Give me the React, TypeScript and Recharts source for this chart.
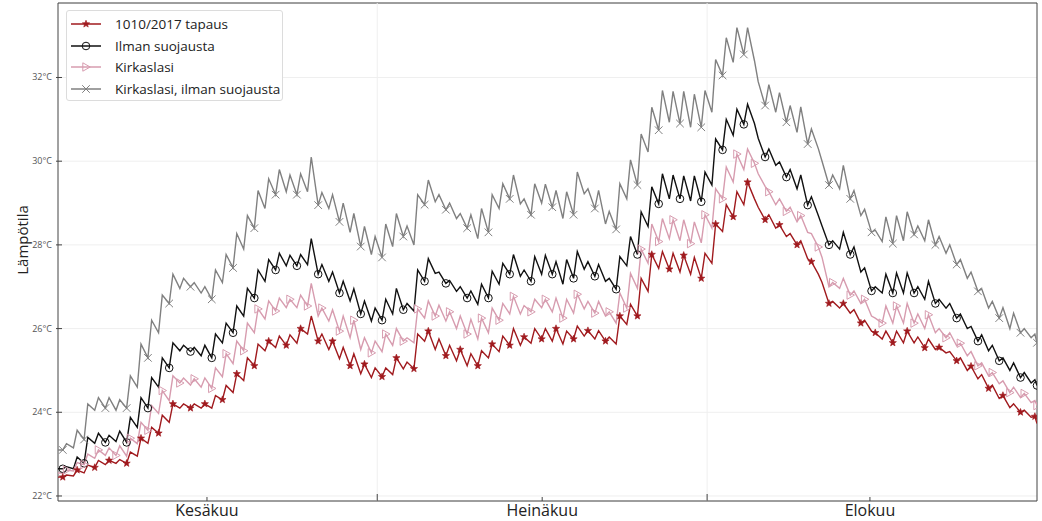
import React from 'react';
import { LineChart, Line, XAxis, YAxis, CartesianGrid, ReferenceLine, ReferenceArea } from 'recharts';

// ---- data (daily trough / daily peak, °C), 1 Jun .. 31 Aug ----
const seriesNames = ['1010/2017 tapaus', 'Ilman suojausta', 'Kirkaslasi', 'Kirkaslasi, ilman suojausta'];
const seriesKeys = ['red', 'black', 'pink', 'gray'];
const seriesColors = ['#a01a1e', '#111111', '#d79caf', '#808080'];

const redLow = [22.45, 22.48, 22.55, 22.68, 22.75, 22.78, 22.78, 22.95, 23.26, 23.5,
  23.76, 24.1, 24.1, 24.1, 24.1, 24.3, 24.47, 24.76, 25.11, 25.47,
  25.55, 25.6, 25.65, 25.87, 25.7, 25.5, 25.28, 25.11, 24.92, 24.83,
  24.85, 24.9, 25.04, 25.04, 25.7, 25.5, 25.35, 25.23, 25.11, 25.11,
  25.3, 25.45, 25.6, 25.6, 25.65, 25.75, 25.7, 25.63, 25.75, 25.82,
  25.75, 25.7, 25.63, 26.1, 26.3, 26.89, 27.44, 27.42, 27.35, 27.3,
  27.2, 27.56, 28.32, 28.67, 28.96, 29.1, 28.6, 28.4, 28.2, 28.0,
  27.67, 27.3, 26.6, 26.49, 26.37, 26.13, 25.94, 25.75, 25.66, 25.66,
  25.66, 25.54, 25.5, 25.42, 25.23, 25.0, 24.8, 24.57, 24.33, 24.11,
  24.0, 23.88];
const redHigh = [22.5, 22.62, 22.74, 22.85, 22.85, 22.87, 23.05, 23.38, 23.64, 23.93,
  24.2, 24.2, 24.2, 24.2, 24.4, 24.64, 24.92, 25.3, 25.63, 25.7,
  25.82, 25.85, 26.0, 26.3, 25.87, 25.7, 25.55, 25.4, 25.15, 25.06,
  25.06, 25.3, 25.2, 25.87, 25.94, 25.75, 25.6, 25.5, 25.4, 25.47,
  25.63, 25.82, 26.0, 25.8, 26.0, 26.0, 26.0, 25.94, 26.06, 25.95,
  25.95, 25.8, 26.3, 26.58, 27.2, 27.77, 27.84, 27.8, 27.75, 27.7,
  27.8, 28.5, 28.96, 29.27, 29.5, 28.9, 28.72, 28.48, 28.27, 28.1,
  27.6, 27.1, 26.65, 26.6, 26.45, 26.2, 25.9, 25.94, 25.94, 25.94,
  25.8, 25.75, 25.55, 25.45, 25.3, 25.1, 24.9, 24.65, 24.4, 24.2,
  24.05, 23.9];

const blackLow = [22.65, 22.65, 22.78, 23.26, 23.28, 23.3, 23.28, 23.64, 24.1, 24.6,
  25.06, 25.47, 25.45, 25.35, 25.3, 25.66, 25.9, 26.3, 26.73, 27.13,
  27.4, 27.5, 27.5, 27.53, 27.3, 27.13, 26.85, 26.66, 26.35, 26.18,
  26.2, 26.35, 26.45, 26.42, 27.13, 27.32, 27.08, 26.89, 26.73, 26.58,
  26.73, 27.06, 27.3, 27.25, 27.13, 27.3, 27.3, 27.06, 27.2, 27.42,
  27.25, 27.13, 26.94, 27.5, 27.77, 28.44, 28.98, 29.1, 29.1, 29.05,
  29.03, 29.43, 30.27, 30.62, 30.88, 30.9, 30.1, 29.9, 29.62, 29.34,
  28.95, 28.7, 28.0, 27.9, 27.77, 27.35, 26.9, 26.85, 26.85, 26.85,
  26.85, 26.7, 26.6, 26.49, 26.25, 26.0, 25.7, 25.47, 25.23, 25.0,
  24.83, 24.7];
const blackHigh = [22.7, 22.93, 23.4, 23.5, 23.45, 23.55, 23.88, 24.35, 24.83, 25.3,
  25.66, 25.6, 25.55, 25.6, 25.87, 26.13, 26.54, 26.96, 27.4, 27.65,
  27.8, 27.75, 27.77, 28.15, 27.53, 27.35, 27.13, 26.95, 26.66, 26.49,
  26.7, 26.96, 26.6, 27.4, 27.67, 27.35, 27.15, 27.0, 26.9, 27.06,
  27.37, 27.56, 27.77, 27.4, 27.72, 27.75, 27.6, 27.65, 27.84, 27.6,
  27.53, 27.2, 27.72, 28.2, 28.79, 29.39, 29.7, 29.67, 29.65, 29.65,
  29.74, 30.53, 31.0, 31.24, 31.36, 30.55, 30.29, 29.98, 29.8, 29.67,
  29.15, 28.45, 28.1, 28.3, 27.95, 27.45, 27.0, 27.3, 27.33, 27.33,
  27.0, 27.13, 26.7, 26.6, 26.35, 26.05, 25.85, 25.6, 25.3, 25.18,
  24.95, 24.78];

const pinkLow = [22.55, 22.6, 22.75, 22.9, 22.97, 22.97, 22.95, 23.25, 23.57, 23.97,
  24.28, 24.7, 24.65, 24.6, 24.57, 24.85, 25.16, 25.47, 25.9, 26.23,
  26.42, 26.5, 26.5, 26.54, 26.3, 26.18, 25.94, 25.78, 25.5, 25.42,
  25.45, 25.6, 25.7, 25.66, 26.25, 26.3, 26.18, 26.0, 25.87, 25.75,
  25.9, 26.2, 26.35, 26.35, 26.4, 26.5, 26.4, 26.25, 26.37, 26.47,
  26.37, 26.3, 26.13, 26.49, 26.96, 27.56, 28.08, 28.15, 28.1, 28.03,
  28.05, 28.4, 29.1, 29.5, 29.8, 29.95, 29.4, 28.96, 28.8, 28.55,
  28.3, 27.95, 27.0, 26.96, 26.8, 26.6, 26.3, 26.13, 26.13, 26.13,
  26.13, 26.0, 25.9, 25.78, 25.59, 25.35, 25.11, 24.87, 24.68, 24.47,
  24.35, 24.23];
const pinkHigh = [22.62, 22.8, 23.0, 23.1, 23.15, 23.2, 23.38, 23.76, 24.16, 24.52,
  24.87, 24.82, 24.8, 24.82, 25.06, 25.4, 25.7, 26.13, 26.47, 26.66,
  26.73, 26.7, 26.8, 27.08, 26.49, 26.45, 26.3, 26.2, 25.78, 25.7,
  25.87, 26.0, 25.78, 26.47, 26.66, 26.56, 26.4, 26.3, 26.22, 26.25,
  26.49, 26.6, 26.77, 26.55, 26.7, 26.7, 26.73, 26.7, 26.82, 26.65,
  26.65, 26.4, 26.85, 27.32, 27.9, 28.5, 28.63, 28.6, 28.6, 28.55,
  28.72, 29.34, 29.86, 30.17, 30.29, 29.7, 29.27, 29.1, 28.9, 28.7,
  28.27, 27.7, 27.1, 27.2, 26.9, 26.7, 26.25, 26.54, 26.54, 26.6,
  26.35, 26.33, 26.0, 25.9, 25.65, 25.45, 25.18, 24.95, 24.75, 24.6,
  24.45, 24.28];

const grayLow = [23.1, 23.15, 23.35, 24.05, 24.1, 24.05, 24.1, 24.6, 25.3, 25.9,
  26.6, 26.96, 27.0, 26.85, 26.7, 27.1, 27.45, 27.9, 28.4, 28.87,
  29.2, 29.27, 29.2, 29.27, 28.95, 28.87, 28.55, 28.3, 27.96, 27.77,
  27.7, 27.96, 28.2, 28.0, 28.96, 29.03, 28.84, 28.63, 28.4, 28.15,
  28.3, 28.87, 29.1, 28.98, 28.72, 29.0, 28.9, 28.63, 28.72, 29.22,
  28.87, 28.5, 28.37, 29.1, 29.43, 30.22, 30.74, 30.93, 30.9, 30.81,
  30.81, 31.17, 32.05, 32.36, 32.55, 32.4, 31.33, 31.17, 30.93, 30.69,
  30.41, 30.3, 29.43, 29.34, 29.1, 28.7, 28.3, 28.08, 28.03, 28.1,
  28.25, 28.1, 28.0, 27.8, 27.53, 27.2, 26.89, 26.49, 26.25, 26.0,
  25.9, 25.78];
const grayHigh = [23.25, 23.57, 24.2, 24.35, 24.35, 24.3, 24.87, 25.63, 26.2, 26.8,
  27.3, 27.2, 27.1, 27.0, 27.4, 27.77, 28.27, 28.7, 29.3, 29.58,
  29.8, 29.67, 29.7, 30.1, 29.25, 29.2, 29.0, 28.75, 28.44, 28.2,
  28.5, 28.75, 28.45, 29.2, 29.55, 29.2, 29.0, 28.75, 28.72, 28.87,
  29.2, 29.46, 29.67, 29.1, 29.46, 29.45, 29.3, 29.27, 29.74, 29.34,
  29.3, 28.8, 29.46, 30.03, 30.65, 31.29, 31.69, 31.67, 31.67, 31.6,
  31.69, 32.43, 32.95, 33.19, 33.19, 31.9, 31.83, 31.64, 31.33, 31.3,
  30.77, 30.0, 29.67, 29.9, 29.3, 28.85, 28.35, 28.67, 28.7, 28.79,
  28.45, 28.6, 28.2, 28.0, 27.65, 27.35, 26.95, 26.65, 26.5, 26.37,
  26.0, 25.87];

const startValues = [22.45, 22.65, 22.55, 23.1];
const endValues = [23.73, 24.64, 24.16, 25.66];

const monthNames = ['Kesäkuu', 'Heinäkuu', 'Elokuu'];
const monthLabelPos = [14, 45.5, 76.3];
const monthBoundaries = [30, 61];
const yTicks = [22, 24, 26, 28, 30, 32];
const DAYS = 92;
const Y_MIN = 21.88;
const Y_MAX = 33.78;

const lows = [redLow, blackLow, pinkLow, grayLow];
const highs = [redHigh, blackHigh, pinkHigh, grayHigh];

const buildData = () => {
  const rows: any[] = [];
  const first: any = { t: 0 };
  seriesKeys.forEach((k, i) => (first[k] = startValues[i]));
  rows.push(first);
  for (let d = 0; d < DAYS; d++) {
    const lo: any = { t: d + 0.45 };
    const hi: any = { t: d + 0.8 };
    seriesKeys.forEach((k, i) => {
      lo[k] = lows[i][d];
      hi[k] = highs[i][d];
    });
    rows.push(lo, hi);
  }
  const last: any = { t: DAYS };
  seriesKeys.forEach((k, i) => (last[k] = endValues[i]));
  rows.push(last);
  return rows;
};
const data = buildData();

const FONT = "'Open Sans', 'Noto Sans', sans-serif";

const Marker = ({ kind, cx, cy, color }: any) => {
  if (kind === 'red') {
    const pts: string[] = [];
    for (let i = 0; i < 10; i++) {
      const r = i % 2 === 0 ? 3.8 : 1.6;
      const a = -Math.PI / 2 + (i * Math.PI) / 5;
      pts.push(`${cx + r * Math.cos(a)},${cy + r * Math.sin(a)}`);
    }
    return <polygon points={pts.join(' ')} fill={color} stroke={color} strokeWidth={0.6} />;
  }
  if (kind === 'black') return <circle cx={cx} cy={cy} r={3.8} fill="none" stroke={color} strokeWidth={1} />;
  if (kind === 'pink')
    return (
      <polygon
        points={`${cx + 4.2},${cy} ${cx - 3.2},${cy - 4.2} ${cx - 3.2},${cy + 4.2}`}
        fill="none"
        stroke={color}
        strokeWidth={1}
      />
    );
  return (
    <g stroke={color} strokeWidth={1}>
      <line x1={cx - 3.8} y1={cy - 3.8} x2={cx + 3.8} y2={cy + 3.8} />
      <line x1={cx - 3.8} y1={cy + 3.8} x2={cx + 3.8} y2={cy - 3.8} />
    </g>
  );
};

const makeDot = (kind: string, color: string, every: number, offset: number) => (props: any) => {
  const { cx, cy, index } = props;
  if (cx == null || cy == null || index < 1 || (index - offset) % every !== 0) return <g key={`e-${kind}-${index}`} />;
  return (
    <g key={`m-${kind}-${index}`}>
      <Marker kind={kind} cx={cx} cy={cy} color={color} />
    </g>
  );
};

const dotEvery = [3, 4, 3, 4];
const dotOffset = [1, 1, 2, 1];

const YTick = (props: any) => {
  const { x, y, payload } = props;
  return (
    <g>
      <text x={x - 2} y={y} dy={3} textAnchor="end" fontSize={9} fill="#555" fontFamily={FONT}>
        {`${payload.value}°C`}
      </text>
      <line x1={x + 2} x2={x + 8} y1={y} y2={y} stroke="#444" strokeWidth={1} />
    </g>
  );
};

const XTick = (props: any) => {
  const { x, y, payload } = props;
  const idx = monthLabelPos.indexOf(payload.value);
  if (idx >= 0) {
    return (
      <g>
        <line x1={x} x2={x} y1={y} y2={y - 4} stroke="#444" strokeWidth={1} />
        <text x={x} y={y + 15} textAnchor="middle" fontSize={16} fill="#222" fontFamily={FONT}>
          {monthNames[idx]}
        </text>
      </g>
    );
  }
  return <line x1={x} x2={x} y1={y} y2={y - 7} stroke="#444" strokeWidth={1} />;
};

const LegendBox = () => (
  <div
    style={{
      position: 'absolute',
      left: 66,
      top: 10,
      width: 217,
      height: 91,
      background: 'white',
      border: '1px solid #dcdcdc',
      borderRadius: 3,
      fontFamily: FONT,
      fontSize: 13.5,
      color: '#222',
      boxSizing: 'border-box',
      paddingTop: 2,
    }}
  >
    {seriesNames.map((name, i) => (
      <div key={name} style={{ display: 'flex', alignItems: 'center', height: 21.7 }}>
        <svg width={42} height={14} style={{ marginLeft: 3, marginRight: 3 }}>
          <line x1={1} x2={31} y1={7} y2={7} stroke={seriesColors[i]} strokeWidth={1.5} />
          <Marker kind={seriesKeys[i]} cx={16} cy={7} color={seriesColors[i]} />
        </svg>
        <span style={{ whiteSpace: 'nowrap' }}>{name}</span>
      </div>
    ))}
  </div>
);

export default function App() {
  return (
    <div style={{ position: 'absolute', left: 0, top: 0, width: 1042, height: 521, background: 'white' }}>
      <LineChart width={1042} height={521} data={data} margin={{ top: 3, right: 5, bottom: 0, left: 0 }}>
        <CartesianGrid vertical={false} stroke="#efefef" />
        {monthBoundaries.map((b) => (
          <ReferenceLine key={b} x={b} stroke="#efefef" ifOverflow="hidden" />
        ))}
        <XAxis
          dataKey="t"
          type="number"
          domain={[0, DAYS]}
          ticks={[monthLabelPos[0], monthBoundaries[0], monthLabelPos[1], monthBoundaries[1], monthLabelPos[2]]}
          tick={<XTick />}
          tickLine={false}
          axisLine={false}
          tickSize={0}
          tickMargin={0}
          height={20}
          allowDataOverflow
        />
        <YAxis
          type="number"
          domain={[Y_MIN, Y_MAX]}
          ticks={yTicks}
          tick={<YTick />}
          tickLine={false}
          axisLine={false}
          tickSize={0}
          tickMargin={4}
          width={58}
          allowDataOverflow
          label={{
            content: ({ viewBox }: any) => {
              const cx = 22;
              const cy = viewBox ? viewBox.y + viewBox.height / 2 - 12 : 240;
              return (
                <text
                  x={cx}
                  y={cy}
                  transform={`rotate(-90, ${cx}, ${cy})`}
                  textAnchor="middle"
                  dominantBaseline="central"
                  fontSize={15}
                  fill="#222"
                  fontFamily={FONT}
                >
                  Lämpötila
                </text>
              );
            },
          }}
        />
        {seriesKeys.map((k, i) => (
          <Line
            key={k}
            dataKey={k}
            type="linear"
            stroke={seriesColors[i]}
            strokeWidth={1.4}
            dot={makeDot(k, seriesColors[i], dotEvery[i], dotOffset[i])}
            activeDot={false}
            isAnimationActive={false}
          />
        ))}
        <ReferenceArea x1={0} x2={DAYS} y1={Y_MIN} y2={Y_MAX} fill="none" stroke="#444" strokeWidth={1} ifOverflow="visible" />
      </LineChart>
      <LegendBox />
    </div>
  );
}
